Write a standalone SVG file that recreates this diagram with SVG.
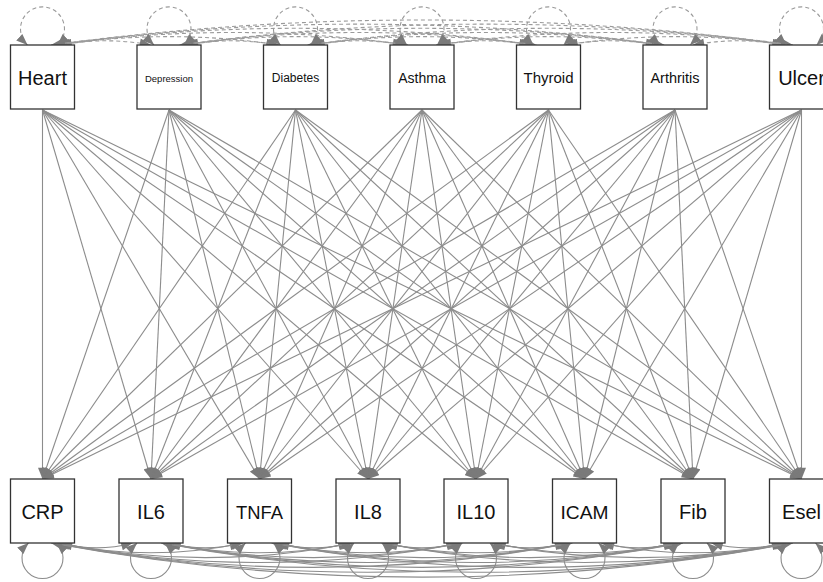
<svg xmlns="http://www.w3.org/2000/svg" width="823" height="582" viewBox="0 0 823 582">
<style>
.e{fill:none;stroke:#8c8c8c;stroke-width:1.1;marker-end:url(#ah)}
.c{fill:none;stroke:#9a9a9a;stroke-width:1.1;stroke-dasharray:4 3;marker-start:url(#ah)}
.c{marker-end:url(#ah)}
.s{fill:none;stroke:#8c8c8c;stroke-width:1.1;marker-start:url(#ah);marker-end:url(#ah)}
.b{fill:#fff;stroke:#333;stroke-width:1.3}
text{font-family:"Liberation Sans",Arial,sans-serif;fill:#111;text-anchor:middle}
</style>
<defs>
<marker id="ah" viewBox="0 0 10 8" refX="10" refY="4" markerWidth="12" markerHeight="9" markerUnits="userSpaceOnUse" orient="auto-start-reverse"><path d="M0 0L10 4L0 8z" fill="#7a7a7a"/></marker>
</defs>
<g id="connectors">
<g id="regressions">
<path class="e" d="M42.5 110L42.5 479"/><path class="e" d="M42.5 110L151 479"/><path class="e" d="M42.5 110L259.5 479"/><path class="e" d="M42.5 110L368 479"/><path class="e" d="M42.5 110L476 479"/><path class="e" d="M42.5 110L584.5 479"/><path class="e" d="M42.5 110L693 479"/><path class="e" d="M42.5 110L801.5 479"/>
<path class="e" d="M169 110L42.5 479"/><path class="e" d="M169 110L151 479"/><path class="e" d="M169 110L259.5 479"/><path class="e" d="M169 110L368 479"/><path class="e" d="M169 110L476 479"/><path class="e" d="M169 110L584.5 479"/><path class="e" d="M169 110L693 479"/><path class="e" d="M169 110L801.5 479"/>
<path class="e" d="M295.5 110L42.5 479"/><path class="e" d="M295.5 110L151 479"/><path class="e" d="M295.5 110L259.5 479"/><path class="e" d="M295.5 110L368 479"/><path class="e" d="M295.5 110L476 479"/><path class="e" d="M295.5 110L584.5 479"/><path class="e" d="M295.5 110L693 479"/><path class="e" d="M295.5 110L801.5 479"/>
<path class="e" d="M422 110L42.5 479"/><path class="e" d="M422 110L151 479"/><path class="e" d="M422 110L259.5 479"/><path class="e" d="M422 110L368 479"/><path class="e" d="M422 110L476 479"/><path class="e" d="M422 110L584.5 479"/><path class="e" d="M422 110L693 479"/><path class="e" d="M422 110L801.5 479"/>
<path class="e" d="M548.5 110L42.5 479"/><path class="e" d="M548.5 110L151 479"/><path class="e" d="M548.5 110L259.5 479"/><path class="e" d="M548.5 110L368 479"/><path class="e" d="M548.5 110L476 479"/><path class="e" d="M548.5 110L584.5 479"/><path class="e" d="M548.5 110L693 479"/><path class="e" d="M548.5 110L801.5 479"/>
<path class="e" d="M675 110L42.5 479"/><path class="e" d="M675 110L151 479"/><path class="e" d="M675 110L259.5 479"/><path class="e" d="M675 110L368 479"/><path class="e" d="M675 110L476 479"/><path class="e" d="M675 110L584.5 479"/><path class="e" d="M675 110L693 479"/><path class="e" d="M675 110L801.5 479"/>
<path class="e" d="M801.5 110L42.5 479"/><path class="e" d="M801.5 110L151 479"/><path class="e" d="M801.5 110L259.5 479"/><path class="e" d="M801.5 110L368 479"/><path class="e" d="M801.5 110L476 479"/><path class="e" d="M801.5 110L584.5 479"/><path class="e" d="M801.5 110L693 479"/><path class="e" d="M801.5 110L801.5 479"/>
</g>
<g id="top-covariances">
<path class="c" d="M60.5 45Q105.75 36.6 151 45"/><path class="c" d="M187 45Q232.25 36.6 277.5 45"/><path class="c" d="M313.5 45Q358.75 36.6 404 45"/><path class="c" d="M440 45Q485.25 36.6 530.5 45"/><path class="c" d="M566.5 45Q611.75 36.6 657 45"/><path class="c" d="M693 45Q738.25 36.6 783.5 45"/>
<path class="c" d="M58.5 45Q169 28.3 279.5 45"/><path class="c" d="M185 45Q295.5 28.3 406 45"/><path class="c" d="M311.5 45Q422 28.3 532.5 45"/><path class="c" d="M438 45Q548.5 28.3 659 45"/><path class="c" d="M564.5 45Q675 28.3 785.5 45"/>
<path class="c" d="M56.5 45Q232.25 20 408 45"/><path class="c" d="M183 45Q358.75 20 534.5 45"/><path class="c" d="M309.5 45Q485.25 20 661 45"/><path class="c" d="M436 45Q611.75 20 787.5 45"/>
<path class="c" d="M54.5 45Q295.5 11.6 536.5 45"/><path class="c" d="M181 45Q422 11.6 663 45"/><path class="c" d="M307.5 45Q548.5 11.6 789.5 45"/>
<path class="c" d="M53 45Q358.75 3.3 664.5 45"/><path class="c" d="M179.5 45Q485.25 3.3 791 45"/>
<path class="c" d="M51 45Q422 -5 793 45"/>
</g>
<g id="top-variances">
<path class="c" d="M27.5 45A22 22 0 1 1 57.5 45"/><path class="c" d="M154 45A22 22 0 1 1 184 45"/><path class="c" d="M280.5 45A22 22 0 1 1 310.5 45"/><path class="c" d="M407 45A22 22 0 1 1 437 45"/><path class="c" d="M533.5 45A22 22 0 1 1 563.5 45"/><path class="c" d="M660 45A22 22 0 1 1 690 45"/><path class="c" d="M786.5 45A22 22 0 1 1 816.5 45"/>
</g>
<g id="bottom-covariances">
<path class="s" d="M61 543Q96.75 552.8 132.5 543"/><path class="s" d="M169.5 543Q205.25 552.8 241 543"/><path class="s" d="M278 543Q313.75 552.8 349.5 543"/><path class="s" d="M386.5 543Q422 552.8 457.5 543"/><path class="s" d="M494.5 543Q530.25 552.8 566 543"/><path class="s" d="M603 543Q638.75 552.8 674.5 543"/><path class="s" d="M711.5 543Q747.25 552.8 783 543"/>
<path class="s" d="M59 543Q151 562.5 243 543"/><path class="s" d="M167.5 543Q259.5 562.5 351.5 543"/><path class="s" d="M276 543Q367.75 562.5 459.5 543"/><path class="s" d="M384.5 543Q476.25 562.5 568 543"/><path class="s" d="M492.5 543Q584.5 562.5 676.5 543"/><path class="s" d="M601 543Q693 562.5 785 543"/>
<path class="s" d="M57.5 543Q205.25 572.3 353 543"/><path class="s" d="M166 543Q313.5 572.3 461 543"/><path class="s" d="M274.5 543Q422 572.3 569.5 543"/><path class="s" d="M383 543Q530.5 572.3 678 543"/><path class="s" d="M491 543Q638.75 572.3 786.5 543"/>
<path class="s" d="M56 543Q259.25 582 462.5 543"/><path class="s" d="M164.5 543Q367.75 582 571 543"/><path class="s" d="M273 543Q476.25 582 679.5 543"/><path class="s" d="M381.5 543Q584.75 582 788 543"/>
<path class="s" d="M54.5 543Q313.5 591.8 572.5 543"/><path class="s" d="M163 543Q422 591.8 681 543"/><path class="s" d="M271.5 543Q530.5 591.8 789.5 543"/>
<path class="s" d="M52.5 543Q367.75 601.6 683 543"/><path class="s" d="M161 543Q476.25 601.6 791.5 543"/>
<path class="s" d="M51 543Q422 611.3 793 543"/>
</g>
<g id="bottom-variances">
<path class="s" d="M28.5 543A20.5 20.5 0 1 0 56.5 543"/><path class="s" d="M137 543A20.5 20.5 0 1 0 165 543"/><path class="s" d="M245.5 543A20.5 20.5 0 1 0 273.5 543"/><path class="s" d="M354 543A20.5 20.5 0 1 0 382 543"/><path class="s" d="M462 543A20.5 20.5 0 1 0 490 543"/><path class="s" d="M570.5 543A20.5 20.5 0 1 0 598.5 543"/><path class="s" d="M679 543A20.5 20.5 0 1 0 707 543"/><path class="s" d="M787.5 543A20.5 20.5 0 1 0 815.5 543"/>
</g>
</g>
<g id="Heart"><rect class="b" x="10.5" y="45" width="64" height="64"/><text x="42.5" y="85" font-size="20">Heart</text></g>
<g id="Depression"><rect class="b" x="137" y="45" width="64" height="64"/><text x="169" y="81.5" font-size="9.5">Depression</text></g>
<g id="Diabetes"><rect class="b" x="263.5" y="45" width="64" height="64"/><text x="295.5" y="82" font-size="12">Diabetes</text></g>
<g id="Asthma"><rect class="b" x="390" y="45" width="64" height="64"/><text x="422" y="83" font-size="14">Asthma</text></g>
<g id="Thyroid"><rect class="b" x="516.5" y="45" width="64" height="64"/><text x="548.5" y="83" font-size="15">Thyroid</text></g>
<g id="Arthritis"><rect class="b" x="643" y="45" width="64" height="64"/><text x="675" y="83" font-size="14.5">Arthritis</text></g>
<g id="Ulcer"><rect class="b" x="769.5" y="45" width="64" height="64"/><text x="801.5" y="85" font-size="20">Ulcer</text></g>
<g id="CRP"><rect class="b" x="10.5" y="479" width="64" height="64"/><text x="42.5" y="519" font-size="20">CRP</text></g>
<g id="IL6"><rect class="b" x="119" y="479" width="64" height="64"/><text x="151" y="519" font-size="20">IL6</text></g>
<g id="TNFA"><rect class="b" x="227.5" y="479" width="64" height="64"/><text x="259.5" y="518.5" font-size="18.4">TNFA</text></g>
<g id="IL8"><rect class="b" x="336" y="479" width="64" height="64"/><text x="368" y="519" font-size="20">IL8</text></g>
<g id="IL10"><rect class="b" x="444" y="479" width="64" height="64"/><text x="476" y="519" font-size="20">IL10</text></g>
<g id="ICAM"><rect class="b" x="552.5" y="479" width="64" height="64"/><text x="584.5" y="518.5" font-size="19.2">ICAM</text></g>
<g id="Fib"><rect class="b" x="661" y="479" width="64" height="64"/><text x="693" y="519" font-size="20">Fib</text></g>
<g id="Esel"><rect class="b" x="769.5" y="479" width="64" height="64"/><text x="801.5" y="519" font-size="20">Esel</text></g>
</svg>
